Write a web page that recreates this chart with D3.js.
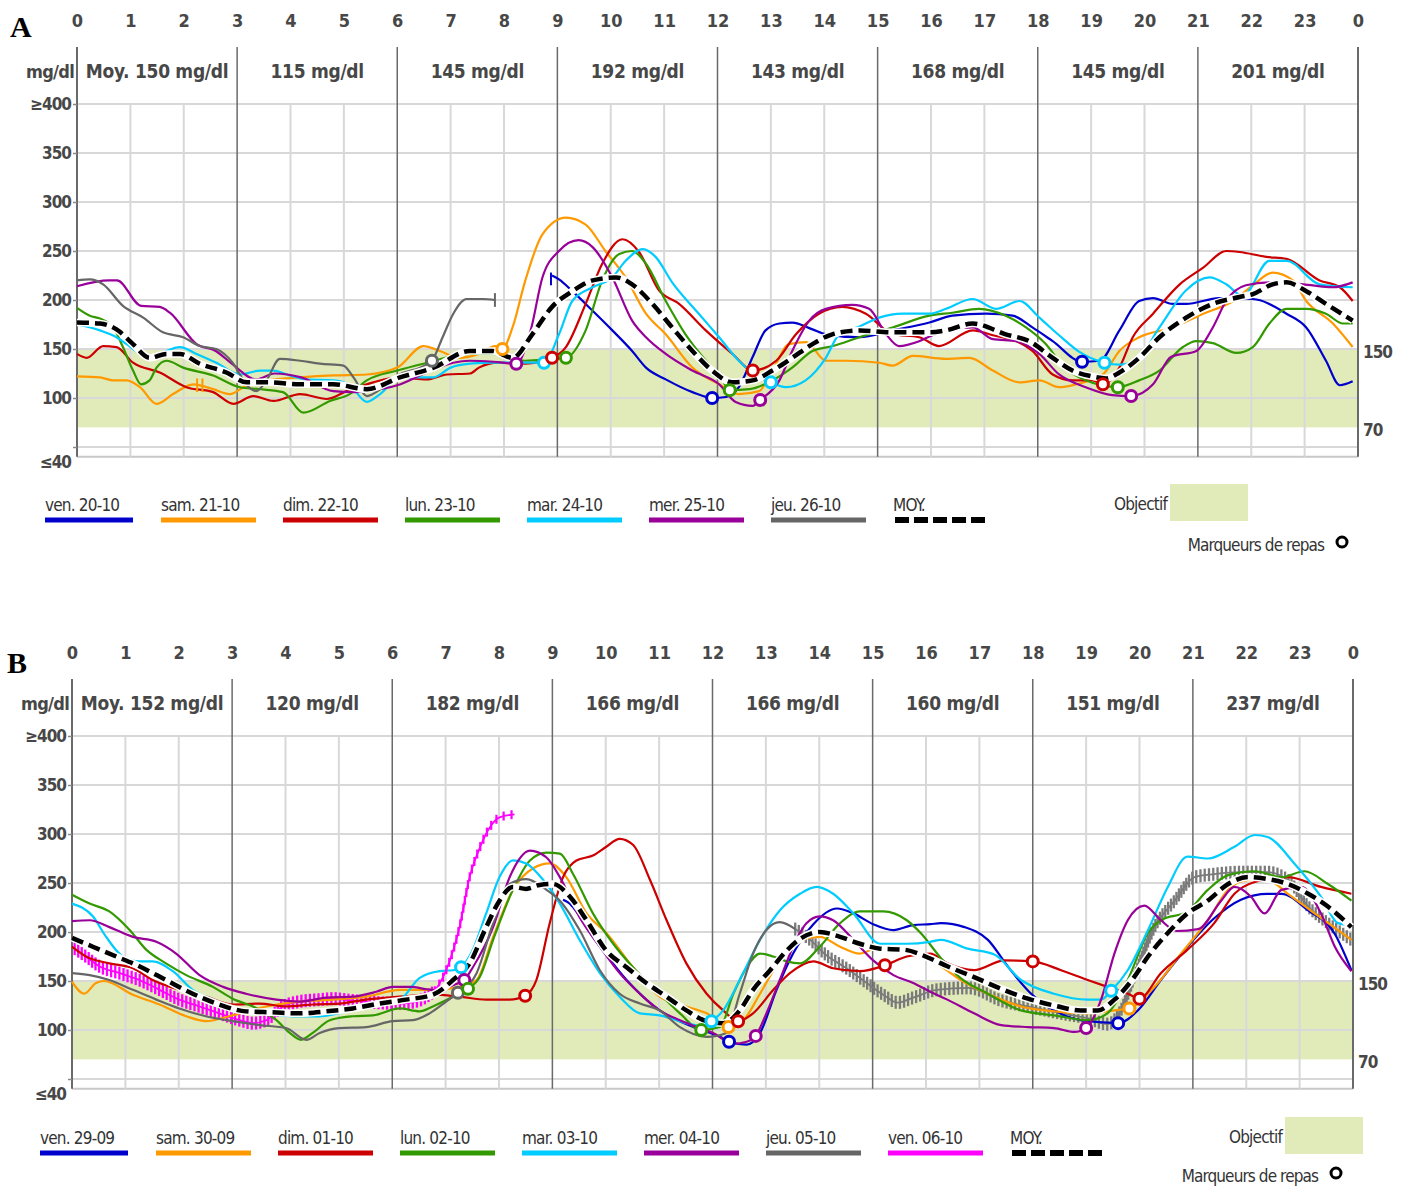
<!DOCTYPE html>
<html><head><meta charset="utf-8">
<script src="https://cdn.jsdelivr.net/npm/d3@7"></script>
<style>
body{margin:0;background:#fff;}
svg text{font-family:"DejaVu Sans Condensed","Liberation Sans Narrow","Roboto Condensed","Open Sans",sans-serif;font-stretch:condensed;}
</style></head><body>
<svg id="c" width="1407" height="1186"></svg>
<script>
// ---------- axis / label data ----------
const hourTicks = d3.range(0, 25);
const hourLabels = hourTicks.map(h => String(h % 24));
const yTickValues = [400, 350, 300, 250, 200, 150, 100, 50, 40];
const yTickLabels = ["≥400", "350", "300", "250", "200", "150", "100", "", "≤40"];
const targetRange = [70, 150];
const periodsA = ["Moy. 150 mg/dl", "115 mg/dl", "145 mg/dl", "192 mg/dl", "143 mg/dl", "168 mg/dl", "145 mg/dl", "201 mg/dl"];
const periodsB = ["Moy. 152 mg/dl", "120 mg/dl", "182 mg/dl", "166 mg/dl", "166 mg/dl", "160 mg/dl", "151 mg/dl", "237 mg/dl"];
const daysA = ["ven. 20-10", "sam. 21-10", "dim. 22-10", "lun. 23-10", "mar. 24-10", "mer. 25-10", "jeu. 26-10"];
const daysB = ["ven. 29-09", "sam. 30-09", "dim. 01-10", "lun. 02-10", "mar. 03-10", "mer. 04-10", "jeu. 05-10", "ven. 06-10"];
const colorsA = ["#0000cc", "#ff9900", "#cc0000", "#339900", "#00ccff", "#990099", "#666666"];
const colorsB = ["#0000cc", "#ff9900", "#cc0000", "#339900", "#00ccff", "#990099", "#666666", "#ff00ff"];

// ---------- Panel A series ([hour, mg/dl]) ----------
const A_ven = [[8.9,225],[9.03,221],[9.28,209],[9.66,189],[10.03,169],[10.4,148],[10.66,131],[11.03,119],[11.53,106],[11.9,100],[12.16,101],[12.4,111],[12.66,142],[12.9,169],[13.16,176],[13.4,177],[13.78,170],[14.03,165],[14.66,162],[15.28,169],[15.97,177],[16.4,184],[17.03,186],[17.53,184],[17.9,172],[18.28,158],[18.83,137],[19.16,138],[19.53,169],[19.9,199],[20.16,202],[20.53,196],[20.78,196],[21.4,202],[22.03,201],[22.66,186],[23.03,172],[23.4,138],[23.66,113],[23.9,117]];
const A_sam = [[0,122],[0.43,121],[0.68,118],[0.93,118],[1.18,111],[1.49,94],[1.8,104],[2.18,114],[2.55,109],[2.86,104],[3.18,113],[3.55,118],[4.18,121],[4.8,123],[5.43,124],[6.0,131],[6.49,153],[6.8,148],[7.16,141],[7.53,145],[7.84,153],[7.97,150],[8.16,172],[8.4,220],[8.72,267],[9.16,284],[9.53,277],[9.9,250],[10.28,223],[10.66,186],[11.03,165],[11.53,131],[12.03,114],[12.4,104],[12.78,107],[13.03,128],[13.34,155],[13.66,157],[14.03,138],[14.4,138],[15.03,136],[15.28,133],[15.66,143],[16.28,140],[16.72,141],[17.16,128],[17.66,116],[18.03,118],[18.4,111],[18.72,114],[19.22,124],[19.53,148],[19.9,162],[20.53,172],[21.1,186],[21.66,199],[22.03,215],[22.4,228],[22.78,220],[23.03,199],[23.53,176],[23.9,152]];
const A_dim = [[0,145],[0.18,141],[0.49,153],[0.74,152],[1.05,136],[1.55,126],[2.05,111],[2.55,106],[2.93,94],[3.3,102],[3.68,97],[4.18,104],[4.68,99],[5.05,107],[5.55,116],[6.05,121],[6.55,119],[6.93,124],[7.36,125],[7.53,131],[7.9,136],[8.4,135],[8.9,141],[9.16,152],[9.53,196],[9.84,237],[10.22,262],[10.53,249],[10.9,210],[11.28,196],[11.78,169],[12.28,145],[12.66,128],[13.1,138],[13.47,165],[13.9,186],[14.34,193],[14.78,186],[15.28,165],[15.78,162],[16.15,153],[16.78,169],[17.16,164],[17.6,158],[17.9,148],[18.28,124],[18.65,118],[19.03,118],[19.22,114],[19.53,131],[19.78,162],[20.16,186],[20.66,216],[21.1,233],[21.53,250],[21.78,249],[22.28,244],[22.66,242],[23.28,220],[23.66,213],[23.9,199]];
const A_lun = [[0,192],[0.24,184],[0.43,181],[0.68,172],[0.86,152],[1.05,128],[1.2,114],[1.36,118],[1.49,131],[1.68,138],[1.99,131],[2.55,123],[3.05,111],[3.43,109],[3.86,106],[4.24,85],[4.74,97],[5.11,104],[5.43,118],[6.0,128],[6.49,135],[7.36,145],[7.78,145],[8.4,138],[8.9,140],[9.16,141],[9.53,169],[9.84,220],[10.16,247],[10.4,250],[10.66,237],[11.03,199],[11.4,165],[11.78,138],[12.09,118],[12.23,108],[12.6,109],[13.03,118],[13.4,131],[13.78,148],[14.16,153],[14.66,162],[15.28,172],[15.97,184],[16.4,187],[16.9,191],[17.4,184],[17.78,172],[18.15,155],[18.47,133],[18.9,118],[19.5,111],[19.9,118],[20.28,128],[20.72,152],[20.97,158],[21.28,156],[21.72,146],[22.03,152],[22.34,176],[22.66,191],[23.03,191],[23.4,186],[23.72,176],[23.9,176]];
const A_mar = [[0,175],[0.43,169],[0.74,162],[0.93,155],[1.18,145],[1.36,141],[1.55,145],[1.93,152],[2.24,145],[2.61,136],[3.05,124],[3.43,128],[3.68,128],[3.93,124],[4.3,119],[4.8,118],[5.11,113],[5.43,96],[5.68,104],[6.05,121],[6.68,121],[7.0,131],[7.36,135],[7.78,136],[8.4,136],[8.75,136],[9.03,165],[9.28,199],[9.66,213],[10.03,223],[10.28,240],[10.6,252],[10.84,244],[11.15,218],[11.65,186],[12.03,162],[12.4,138],[12.7,124],[13.0,116],[13.28,111],[13.65,118],[14.03,141],[14.28,165],[14.66,173],[15.03,182],[15.47,186],[15.97,186],[16.28,191],[16.78,201],[17.22,191],[17.66,199],[18.03,182],[18.4,164],[18.78,147],[19.25,136],[19.53,134],[19.84,138],[20.28,172],[20.78,210],[21.22,223],[21.53,216],[21.84,204],[22.34,240],[22.66,240],[23.28,216],[23.9,213]];
const A_mer = [[0,214],[0.6,220],[0.75,220],[1.2,194],[1.55,193],[1.74,187],[2.24,155],[2.6,148],[2.9,135],[3.36,119],[3.7,125],[4.2,121],[4.8,107],[5.2,106],[5.4,107],[6.0,113],[6.55,126],[7.05,136],[7.36,138],[7.8,137],[8.23,135],[8.5,169],[8.72,223],[9.03,250],[9.4,261],[9.66,254],[10.03,223],[10.4,179],[10.66,162],[11.03,145],[11.53,128],[12.03,114],[12.34,96],[12.66,92],[12.8,98],[13.16,118],[13.4,148],[13.72,179],[14.03,191],[14.53,195],[14.84,191],[15.16,165],[15.4,153],[15.78,158],[16.03,164],[16.78,172],[17.16,160],[17.6,158],[18.03,145],[18.4,124],[18.9,111],[19.4,103],[19.75,102],[20.16,114],[20.5,142],[20.97,148],[21.28,172],[21.53,199],[21.9,215],[22.34,218],[22.97,216],[23.53,213],[23.9,218]];
const A_jeu = [[0,220],[0.24,221],[0.49,216],[0.86,194],[1.24,182],[1.61,167],[1.99,162],[2.3,153],[2.61,150],[2.93,135],[3.18,113],[3.36,107],[3.55,118],[3.8,140],[4.18,138],[4.55,135],[4.99,133],[5.18,121],[5.43,102],[5.74,111],[6.05,124],[6.43,131],[6.65,138],[6.85,162],[7.05,186],[7.3,201],[7.6,201],[7.83,200]];
const A_moy = [[0,177],[0.43,176],[0.74,170],[1.05,155],[1.36,141],[1.68,145],[1.93,145],[2.3,135],[2.8,126],[3.18,116],[3.55,116],[4.18,114],[4.8,114],[5.43,109],[6.05,121],[6.68,131],[7.36,148],[7.78,148],[8.16,141],[8.53,165],[8.9,193],[9.28,209],[9.66,220],[10.1,223],[10.4,216],[10.78,196],[11.15,172],[11.53,148],[11.9,128],[12.28,116],[12.66,118],[13.03,128],[13.4,141],[13.78,155],[14.15,165],[14.66,169],[15.28,167],[15.97,167],[16.28,169],[16.78,176],[17.4,165],[17.84,158],[18.28,141],[18.65,128],[19.03,122],[19.28,120],[19.53,126],[19.9,141],[20.28,162],[20.78,182],[21.28,196],[21.78,203],[22.03,206],[22.4,216],[22.66,218],[23.03,209],[23.4,196],[23.9,179]];
const A_meals = [[1,7.97,150],[6,6.65,138],[5,8.23,135],[4,8.75,136],[2,8.9,141],[3,9.16,141],[0,11.9,100],[3,12.23,108],[2,12.66,128],[5,12.8,98],[4,13.0,116],[0,18.83,137],[2,19.22,114],[4,19.25,136],[3,19.5,111],[5,19.75,102]];

// ---------- Panel B series ----------
const B_ven = [[9.2,233],[9.3,230],[9.76,195],[10.39,151],[11.01,120],[11.64,103],[12.14,93],[12.31,88],[12.64,85],[12.89,97],[13.2,141],[13.51,178],[13.89,208],[14.33,224],[14.64,219],[15.01,208],[15.39,202],[15.76,207],[16.08,208],[16.28,209],[16.72,205],[17.16,192],[17.53,165],[17.97,137],[18.4,120],[18.9,110],[19.6,107],[19.97,120],[20.4,151],[20.9,185],[21.4,214],[21.9,233],[22.4,239],[22.66,239],[23.16,222],[23.66,198],[23.97,161]];
const B_sam = [[0,149],[0.23,137],[0.45,148],[0.6,150],[1.14,136],[1.64,126],[2.14,114],[2.51,109],[3.01,115],[3.64,124],[4.26,129],[4.89,131],[5.51,134],[6.14,141],[6.76,141],[7.26,144],[7.58,151],[7.89,195],[8.26,243],[8.64,265],[8.95,270],[9.26,256],[9.64,219],[10.01,199],[10.51,164],[11.01,134],[11.51,124],[11.89,117],[12.3,103],[12.58,110],[12.89,137],[13.26,171],[13.64,192],[14.01,195],[14.39,185],[14.76,178],[15.14,185],[15.58,182],[15.9,176],[16.28,165],[16.65,151],[17.16,137],[17.78,124],[18.4,119],[19.03,117],[19.53,120],[19.81,122],[20.28,144],[20.78,178],[21.28,212],[21.66,243],[22.03,253],[22.4,253],[22.78,239],[23.28,219],[23.72,202],[23.97,192]];
const B_dim = [[0,185],[0.26,175],[0.7,168],[1.14,163],[1.51,151],[2.01,141],[2.51,134],[3.01,126],[3.51,127],[4.01,124],[4.51,126],[5.01,127],[5.51,131],[6.14,134],[6.76,136],[7.26,134],[7.76,131],[8.2,131],[8.49,135],[8.7,151],[8.95,209],[9.2,256],[9.45,273],[9.76,278],[10.01,287],[10.26,295],[10.51,289],[10.83,253],[11.14,212],[11.51,168],[11.89,137],[12.2,120],[12.48,109],[12.76,117],[13.14,141],[13.45,158],[13.89,170],[14.26,163],[14.76,160],[15.23,166],[15.64,175],[16.08,178],[16.4,168],[16.9,161],[17.47,171],[18.0,170],[18.53,161],[19.03,151],[19.4,144],[19.78,137],[20.0,132],[20.4,158],[20.9,182],[21.4,209],[21.78,239],[22.16,251],[22.78,256],[23.4,246],[23.97,239]];
const B_lun = [[0,238],[0.33,229],[0.7,221],[1.08,202],[1.39,182],[1.76,168],[2.14,156],[2.64,144],[3.01,132],[3.39,124],[3.83,110],[4.08,97],[4.29,90],[4.51,97],[4.83,110],[5.26,114],[5.64,115],[6.14,122],[6.51,119],[6.76,124],[7.14,134],[7.42,142],[7.64,154],[7.89,192],[8.26,243],[8.58,273],[8.89,281],[9.14,280],[9.39,259],[9.76,219],[10.14,188],[10.51,164],[11.01,137],[11.39,117],[11.79,100],[12.14,103],[12.39,137],[12.64,164],[12.89,178],[13.14,175],[13.39,170],[13.64,168],[14.01,185],[14.39,209],[14.76,221],[15.2,221],[15.64,212],[15.9,199],[16.3,172],[16.65,153],[17.16,137],[17.78,120],[18.4,115],[19.03,110],[19.4,117],[19.78,151],[20.16,199],[20.4,212],[20.9,221],[21.28,243],[21.66,258],[22.16,262],[22.66,256],[23.09,262],[23.53,249],[23.97,232]];
const B_mar = [[0,229],[0.39,216],[0.64,195],[0.95,175],[1.26,170],[1.51,170],[1.89,160],[2.26,141],[2.64,131],[3.14,120],[3.64,117],[4.14,114],[4.64,114],[5.14,119],[5.64,126],[6.14,131],[6.51,153],[6.89,160],[7.14,161],[7.29,164],[7.51,182],[7.76,219],[8.01,256],[8.26,273],[8.51,270],[8.83,253],[9.14,229],[9.51,192],[9.89,158],[10.26,134],[10.64,117],[11.01,115],[11.51,107],[11.8,104],[11.98,109],[12.2,120],[12.51,151],[12.89,192],[13.26,222],[13.64,239],[13.95,246],[14.26,239],[14.64,219],[15.14,188],[15.64,188],[16.08,190],[16.28,192],[16.78,183],[17.28,177],[17.78,151],[18.4,137],[19.03,131],[19.28,131],[19.47,140],[19.78,161],[20.16,202],[20.53,246],[20.9,277],[21.28,275],[21.78,287],[22.16,299],[22.4,297],[22.9,270],[23.4,236],[23.72,209],[23.97,207]];
const B_mer = [[0,211],[0.33,212],[0.7,205],[1.14,195],[1.58,190],[1.95,178],[2.39,156],[2.83,144],[3.26,137],[3.83,131],[4.26,129],[4.76,133],[5.26,134],[5.7,139],[6.01,144],[6.33,144],[6.76,141],[7.2,147],[7.35,151],[7.51,164],[7.89,205],[8.2,256],[8.58,283],[8.89,276],[9.14,256],[9.51,215],[9.89,185],[10.26,158],[10.64,137],[11.01,120],[11.39,110],[11.76,102],[12.01,97],[12.39,86],[12.64,88],[12.81,94],[13.01,117],[13.26,151],[13.51,185],[13.76,209],[14.01,216],[14.26,212],[14.64,192],[15.01,171],[15.39,156],[15.76,148],[16.08,139],[16.4,131],[16.9,117],[17.41,105],[17.91,103],[18.4,102],[18.78,98],[19.0,102],[19.28,131],[19.53,178],[19.78,212],[20.09,227],[20.4,212],[20.7,201],[21.1,203],[21.53,232],[21.78,246],[22.09,236],[22.34,219],[22.66,243],[23.03,246],[23.4,219],[23.66,185],[23.97,160]];
const B_jeu = [[0,158],[0.33,156],[0.7,151],[1.14,141],[1.58,131],[2.01,122],[2.51,114],[3.01,109],[3.51,105],[4.01,102],[4.39,90],[4.64,97],[5.01,102],[5.51,103],[6.01,109],[6.39,110],[6.7,117],[7.01,129],[7.23,138],[7.58,158],[7.89,209],[8.2,249],[8.51,254],[8.89,243],[9.14,232],[9.51,202],[9.89,161],[10.26,137],[10.64,127],[11.01,120],[11.39,103],[11.89,93],[12.26,97],[12.51,137],[12.76,178],[13.01,202],[13.26,210],[13.55,203]];
const B_jeu_hatch = [[13.55,203],[13.83,192],[14.14,176],[14.51,163],[14.89,148],[15.2,136],[15.47,128],[15.76,133],[16.2,141],[16.8,143],[17.41,130],[17.91,124],[18.53,117],[19.03,112],[19.4,106],[19.65,120],[19.9,154],[20.28,205],[20.66,232],[21.03,256],[21.4,259],[21.9,261],[22.4,261],[22.78,253],[23.16,226],[23.53,209],[23.97,192]];
const B_ven06_hatch = [[0.05,183],[0.26,175],[0.51,165],[0.89,158],[1.26,151],[1.64,141],[2.01,131],[2.39,124],[2.76,117],[3.14,110],[3.39,107],[3.64,110],[3.95,124],[4.26,129],[4.64,131],[4.89,132],[5.26,130],[5.7,128],[6.14,127],[6.5,130],[6.8,140]];
const B_ven06 = [[6.8,140],[7.01,161],[7.26,205],[7.45,256],[7.64,286],[7.83,307],[8.01,317],[8.29,320]];
const B_moy = [[0,194],[0.39,185],[0.83,175],[1.26,165],[1.76,151],[2.26,137],[2.76,126],[3.26,119],[3.76,118],[4.26,117],[4.76,119],[5.26,122],[5.76,127],[6.26,131],[6.76,136],[7.14,151],[7.45,168],[7.76,205],[8.01,232],[8.26,246],[8.51,244],[8.76,248],[9.01,249],[9.33,236],[9.64,212],[10.01,181],[10.39,164],[10.76,148],[11.14,134],[11.51,120],[11.89,109],[12.2,107],[12.51,120],[12.76,141],[13.08,161],[13.39,181],[13.64,193],[14.01,200],[14.39,195],[14.76,188],[15.14,183],[15.58,182],[16.08,173],[16.4,165],[16.9,154],[17.41,142],[17.91,132],[18.4,125],[18.9,120],[19.22,120],[19.53,131],[19.9,154],[20.16,175],[20.53,199],[20.9,219],[21.28,232],[21.66,249],[22.03,256],[22.4,254],[22.78,249],[23.16,239],[23.53,226],[23.97,205]];
const B_meals = [[6,7.23,138],[4,7.29,164],[5,7.35,151],[3,7.42,142],[2,8.49,135],[3,11.79,100],[4,11.98,109],[1,12.3,103],[0,12.31,88],[2,12.48,109],[5,12.81,94],[2,15.23,166],[2,18.0,170],[5,19.0,102],[4,19.47,140],[0,19.6,107],[1,19.81,122],[2,20.0,132]];

const svg = d3.select("#c");
const TXT = "#474747";

function hatchPath(g, d, color, step, half, w) {
  const p = g.append("path").attr("d", d).attr("fill", "none").attr("stroke", color)
    .attr("stroke-width", 1.8);
  const node = p.node(), L = node.getTotalLength();
  const pts = d3.range(0, L, step).map(l => node.getPointAtLength(l));
  g.append("g").selectAll("line").data(pts).join("line")
    .attr("x1", q => q.x).attr("x2", q => q.x).attr("y1", q => q.y - half).attr("y2", q => q.y + half)
    .attr("stroke", color).attr("stroke-width", w);
}

function drawPanel(off, periods, series, hatched, moy, meals, colors) {
  const g = svg.append("g").attr("transform", `translate(${off[0]},${off[1]})`);
  const x = d3.scaleLinear().domain([0, 24]).range([77, 1358]);
  const y = d3.scaleLinear().domain([40, 400]).range([456.8, 104.0]);
  const top = 47;

  g.append("rect").attr("x", x(0)).attr("width", x(24) - x(0))
    .attr("y", y(targetRange[1])).attr("height", y(targetRange[0]) - y(targetRange[1]))
    .attr("fill", "#e1eab9");

  g.selectAll(".hg").data(yTickValues).join("line")
    .attr("x1", x(0)).attr("x2", x(24)).attr("y1", d => y(d)).attr("y2", d => y(d))
    .attr("stroke", d => d === 40 ? "#c8c8c8" : "#d8d8d8").attr("stroke-width", 2);
  g.selectAll(".vg").data(hourTicks.filter(h => h % 3 !== 0)).join("line")
    .attr("x1", d => x(d)).attr("x2", d => x(d)).attr("y1", y(400)).attr("y2", y(40))
    .attr("stroke", "#d8d8d8").attr("stroke-width", 2);
  g.selectAll(".vd").data(hourTicks.filter(h => h % 3 === 0)).join("line")
    .attr("x1", d => x(d)).attr("x2", d => x(d)).attr("y1", top).attr("y2", y(40))
    .attr("stroke", "#6a6a6a").attr("stroke-width", d => (d === 0 || d === 24) ? 2 : 1.5);

  const ax = g.append("g").attr("transform", "translate(0,27)")
    .call(d3.axisTop(x).tickValues(hourTicks).tickFormat((d, i) => hourLabels[i]).tickSize(0).tickPadding(0));
  ax.select(".domain").remove();
  ax.selectAll("text").attr("font-size", 18).attr("font-weight", "bold").attr("fill", TXT);

  const ay = g.append("g").attr("transform", `translate(${x(0)},0)`)
    .call(d3.axisLeft(y).tickValues(yTickValues).tickFormat((d, i) => yTickLabels[i]).tickSize(4).tickPadding(2));
  ay.select(".domain").remove();
  ay.selectAll("line").attr("stroke", "#888").attr("stroke-width", 1.5);
  ay.selectAll(".tick").filter(d => d === 40).select("line").remove();
  ay.selectAll("text").attr("font-size", 17).attr("font-weight", "bold").attr("fill", TXT)
    .attr("letter-spacing", -1);
  ay.selectAll(".tick").filter(d => d === 40).select("text").attr("dy", "0.6em");

  g.append("text").attr("x", x(0) - 3).attr("y", 78).attr("text-anchor", "end")
    .attr("font-size", 18).attr("font-weight", "bold").attr("fill", TXT).attr("letter-spacing", -0.7).text("mg/dl");
  g.selectAll(".pl").data(periods).join("text")
    .attr("x", (d, i) => x(i * 3 + 1.5)).attr("y", 78).attr("text-anchor", "middle")
    .attr("font-size", 19).attr("font-weight", "bold").attr("fill", TXT).attr("letter-spacing", -0.3).text(d => d);

  g.selectAll(".rl").data([150, 70]).join("text")
    .attr("x", x(24) + 5).attr("y", d => y(d) + 9).attr("font-size", 17).attr("font-weight", "bold")
    .attr("fill", TXT).attr("letter-spacing", -1).text(d => d);

  const line = d3.line().x(d => x(d[0])).y(d => y(d[1])).curve(d3.curveMonotoneX);

  hatched.forEach(h => hatchPath(g, line(h.data), h.color, 4.3, 6.5, 2.3));

  series.forEach(s => {
    if (s.tick) { hatchPath(g, line(s.data), s.color, 8, 4.5, 2.2); return; }
    g.append("path").attr("d", line(s.data)).attr("fill", "none").attr("stroke", s.color)
      .attr("stroke-width", 2.2).attr("stroke-linejoin", "round");
  });

  g.append("path").attr("d", line(moy)).attr("fill", "none").attr("stroke", "#fff").attr("stroke-width", 7.5);
  g.append("path").attr("d", line(moy)).attr("fill", "none").attr("stroke", "#000").attr("stroke-width", 4.5)
    .attr("stroke-dasharray", "12,6");

  g.selectAll(".mm").data(meals).join("circle")
    .attr("cx", d => x(d[1])).attr("cy", d => y(d[2])).attr("r", 5.5)
    .attr("fill", "#fff").attr("stroke", d => colors[d[0]]).attr("stroke-width", 3);
  return {g, x, y};
}

function drawLegend(off, days, colors, objX, objY, mrkX, mrkY) {
  const g = svg.append("g").attr("transform", `translate(${off[0]},${off[1]})`);
  const lx = d3.scaleLinear().domain([1, 2]).range([161, 283]);
  const items = days.map((d, i) => ({label: d, color: colors[i]})).concat([{label: "MOY.", moy: true}]);
  items.forEach((it, i) => {
    const x0 = i === 0 ? 45 : lx(i);
    g.append("text").attr("x", x0).attr("y", 511).attr("font-size", 17).attr("fill", "#333")
      .attr("letter-spacing", -0.8).text(it.label);
    if (it.moy) {
      g.append("line").attr("x1", x0 + 2).attr("x2", x0 + 97).attr("y1", 520).attr("y2", 520)
        .attr("stroke", "#000").attr("stroke-width", 6).attr("stroke-dasharray", "14,5");
    } else {
      g.append("line").attr("x1", x0).attr("x2", x0 + (i === 0 ? 88 : 95)).attr("y1", 520).attr("y2", 520)
        .attr("stroke", it.color).attr("stroke-width", 5);
    }
  });
  g.append("rect").attr("x", objX).attr("y", objY).attr("width", 78).attr("height", 37).attr("fill", "#e1eab9");
  g.append("text").attr("x", objX - 3).attr("y", objY + 26).attr("text-anchor", "end").attr("font-size", 17)
    .attr("fill", "#333").attr("letter-spacing", -0.8).text("Objectif");
  g.append("text").attr("x", mrkX - 18).attr("y", mrkY + 9).attr("text-anchor", "end").attr("font-size", 17)
    .attr("fill", "#333").attr("letter-spacing", -0.9).text("Marqueurs de repas");
  g.append("circle").attr("cx", mrkX).attr("cy", mrkY).attr("r", 5).attr("fill", "#fff")
    .attr("stroke", "#000").attr("stroke-width", 3);
}

// Panel A
const pa = drawPanel([0, 0], periodsA,
  [A_ven, A_sam, A_dim, A_lun, A_mar, A_mer, A_jeu].map((d, i) => ({data: d, color: colorsA[i]})),
  [], A_moy, A_meals, colorsA);
pa.g.append("line").attr("x1", pa.x(7.83)).attr("x2", pa.x(7.83)).attr("y1", pa.y(207)).attr("y2", pa.y(193))
  .attr("stroke", colorsA[6]).attr("stroke-width", 2);
pa.g.append("path").attr("d", `M${pa.x(8.88)},${pa.y(215)}V${pa.y(228)}`).attr("stroke", colorsA[0]).attr("stroke-width", 2);
pa.g.append("path").attr("d", `M${pa.x(2.25)},${pa.y(106)}V${pa.y(120)}M${pa.x(2.35)},${pa.y(106)}V${pa.y(120)}`)
  .attr("stroke", colorsA[1]).attr("stroke-width", 2);

drawLegend([0, 0], daysA, colorsA, 1170, 484, 1342, 542);

// Panel B
const pb = drawPanel([-5, 632], periodsB,
  [B_ven, B_sam, B_dim, B_lun, B_mar, B_mer, B_jeu].map((d, i) => ({data: d, color: colorsB[i]}))
    .concat([{data: B_ven06, color: colorsB[7], tick: true}]),
  [{data: B_jeu_hatch, color: "#7a7a7a"}, {data: B_ven06_hatch, color: colorsB[7]}],
  B_moy, B_meals, colorsB);

drawLegend([-5, 633], daysB, colorsB, 1290, 484, 1341, 540);

svg.append("text").attr("x", 10).attr("y", 37).attr("font-size", 30).attr("font-weight", "bold")
  .style("font-family", "'Liberation Serif','Times New Roman',serif").style("font-stretch", "normal").text("A");
svg.append("text").attr("x", 7).attr("y", 673).attr("font-size", 30).attr("font-weight", "bold")
  .style("font-family", "'Liberation Serif','Times New Roman',serif").style("font-stretch", "normal").text("B");
</script>
</body></html>
